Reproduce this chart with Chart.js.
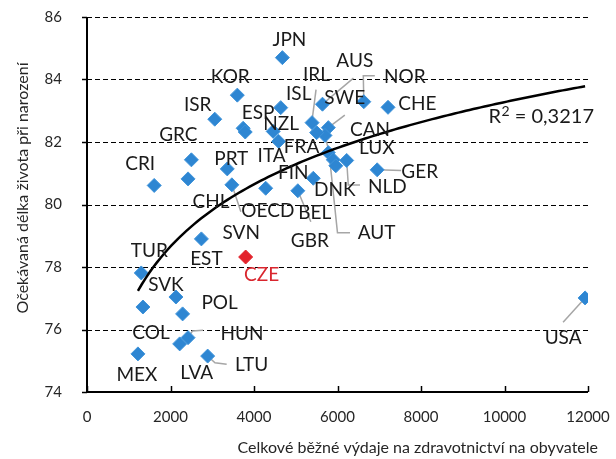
<!DOCTYPE html>
<html>
<head>
<meta charset="utf-8">
<script src="https://cdn.jsdelivr.net/npm/chart.js@4/dist/chart.umd.min.js"></script>
<style>
  html, body { margin: 0; padding: 0; background: #fff; }
  #wrap { width: 616px; height: 459px; }
</style>
</head>
<body>
<div id="wrap"><canvas id="chart" width="616" height="459"></canvas></div>
<script>
// Health spending per capita vs. life expectancy at birth
const countries = ['JPN','KOR','ISR','ISL','ESP','SVN','NZL','ITA','IRL','AUS','NOR','CHE','SWE','AUT','FRA','CAN','LUX','DNK','NLD','GER','FIN','GBR','BEL','OECD','PRT','GRC','CHL','CRI','EST','CZE','TUR','SVK','COL','POL','HUN','LVA','MEX','LTU','USA'];
const spending = [4680,3600,3060,4640,3740,3790,4460,4590,5390,5640,6630,7210,5780,5700,5500,5780,5900,5960,6220,6950,5420,5050,4280,3470,3360,2500,2420,1610,2740,3800,1300,2130,1340,2290,2420,2220,1220,2890,11930];
const lifeExpectancy = [84.70,83.50,82.73,83.10,82.44,82.32,82.34,82.02,82.62,83.21,83.29,83.11,82.46,82.21,82.30,81.66,81.43,81.24,81.41,81.11,80.84,80.44,80.52,80.63,81.14,81.43,80.82,80.61,78.90,78.32,77.81,77.04,76.72,76.50,75.74,75.54,75.22,75.15,77.01];
const highlighted = 'CZE';
const xTicks = [0, 2000, 4000, 6000, 8000, 10000, 12000];
const yTicks = [74, 76, 78, 80, 82, 84, 86];
const rSquaredText = 'R² = 0,3217';
const xTitle = 'Celkové běžné výdaje na zdravotnictví na obyvatele';
const yTitle = 'Očekávaná délka života při narození';

// Where each country label sits, in px from its marker
const labelOffsets = {
  JPN:[7,-18], KOR:[-7,-18], ISR:[-17,-14], ISL:[18,-14], ESP:[15,-15], SVN:[-4,101],
  NZL:[8,-7.5], ITA:[-7,14.5], IRL:[4.4,-47.5], AUS:[32.3,-43.3], NOR:[41,-24.8],
  CHE:[29.4,-3.3], SWE:[16.5,-30.2], AUT:[51.7,97.2], FRA:[-15,14], CAN:[41.7,-22.7],
  LUX:[43.4,-11.7], DNK:[-1,24], NLD:[40.6,26.2], GER:[42.5,1.7], FIN:[-20,-5],
  GBR:[12,50], BEL:[49,25], OECD:[36,26], PRT:[4,-10], GRC:[-13,-25], CHL:[23,23],
  CRI:[-14,-22], EST:[5,20], CZE:[16,18], TUR:[8,-22], SVK:[-10,-12], COL:[8,26],
  POL:[37,-11], HUN:[54,-4], LVA:[17,29], MEX:[-1,21], LTU:[44,9], USA:[-22,40]
};
// Leader lines from marker to a moved label
const leaderPaths = {
  IRL:[[0,-2],[4,-33]],
  AUS:[[0,0],[31,-26]],
  NOR:[[0,0],[-0.5,-26],[11,-26]],
  SWE:[[0,0],[16.5,-12.5]],
  AUT:[[0,0],[4,16.5],[12.5,97.2],[25,97.2]],
  NLD:[[0,0],[1.6,24.5],[13.3,24.5]],
  GER:[[0,0],[24,0.7]],
  GBR:[[0,0],[13,31]],
  OECD:[[0,0],[9,27]],
  HUN:[[0,0],[4.4,-6.6],[15,-7.3]],
  LTU:[[0,0],[7.3,6.7],[19,8.3]],
  USA:[[0,0],[-22,24.4]]
};

const FONT = 'Lato, "Liberation Sans", sans-serif';
const BLUE = '#2E86D2';
const RED = '#E3222B';
const TEXT = '#1A1A1A';

// Logarithmic trend (least squares on ln x)
function logTrend(xs, ys) {
  const n = xs.length;
  let sx = 0, sy = 0, sxx = 0, sxy = 0;
  for (let i = 0; i < n; i++) {
    const lx = Math.log(xs[i]);
    sx += lx; sy += ys[i]; sxx += lx * lx; sxy += lx * ys[i];
  }
  const a = (n * sxy - sx * sy) / (n * sxx - sx * sx);
  const b = (sy - a * sx) / n;
  return { a, b };
}
const trend = logTrend(spending, lifeExpectancy);
const xMin = Math.min(...spending), xMax = Math.max(...spending);
const trendPoints = [];
for (let k = 0; k <= 120; k++) {
  const x = xMin + (xMax - xMin) * k / 120;
  trendPoints.push({ x, y: trend.a * Math.log(x) + trend.b });
}

const basePoints = [], hiPoints = [];
countries.forEach((c, i) => {
  const p = { x: spending[i], y: lifeExpectancy[i] };
  (c === highlighted ? hiPoints : basePoints).push(p);
});

// Text with a raised, slightly smaller superscript two
function drawWithSuperscript(ctx, text, cx, cy, size) {
  const parts = text.split('²');
  const supSize = Math.round(size * 0.68);
  ctx.font = size + 'px ' + FONT;
  const w0 = ctx.measureText(parts[0]).width;
  const w2 = parts.length > 1 ? ctx.measureText(parts[1]).width : 0;
  ctx.font = supSize + 'px ' + FONT;
  const w1 = parts.length > 1 ? ctx.measureText('2').width : 0;
  let xPos = cx - (w0 + w1 + w2) / 2;
  ctx.textAlign = 'left';
  ctx.font = size + 'px ' + FONT;
  ctx.fillText(parts[0], xPos, cy);
  xPos += w0;
  if (parts.length > 1) {
    ctx.font = supSize + 'px ' + FONT;
    ctx.fillText('2', xPos + 0.5, cy - size * 0.3);
    xPos += w1 + 0.5;
    ctx.font = size + 'px ' + FONT;
    ctx.fillText(parts[1], xPos, cy);
  }
  ctx.textAlign = 'center';
}

const decorPlugin = {
  id: 'decor',
  beforeDatasetsDraw(chart) {
    const { ctx, scales: { x, y }, chartArea } = chart;
    ctx.save();
    // dashed horizontal grid
    ctx.strokeStyle = '#000';
    ctx.lineWidth = 1;
    ctx.setLineDash([5, 3]);
    yTicks.forEach(v => {
      if (v === y.min) return;
      const py = Math.round(y.getPixelForValue(v)) + 0.5;
      ctx.beginPath(); ctx.moveTo(chartArea.left, py); ctx.lineTo(chartArea.right, py); ctx.stroke();
    });
    ctx.setLineDash([]);
    // leader lines
    ctx.strokeStyle = '#A6A6A6';
    ctx.lineWidth = 1.5;
    countries.forEach((c, i) => {
      const path = leaderPaths[c];
      if (!path) return;
      const px = x.getPixelForValue(spending[i]);
      const py = y.getPixelForValue(lifeExpectancy[i]);
      ctx.beginPath();
      path.forEach(([dx, dy], k) => {
        if (k === 0) ctx.moveTo(px + dx, py + dy); else ctx.lineTo(px + dx, py + dy);
      });
      ctx.stroke();
    });
    ctx.restore();
  },
  afterDatasetsDraw(chart) {
    const { ctx, scales: { x, y }, chartArea } = chart;
    ctx.save();
    // axis lines
    ctx.strokeStyle = '#000';
    ctx.lineWidth = 2;
    ctx.beginPath();
    ctx.moveTo(chartArea.left, chartArea.top);
    ctx.lineTo(chartArea.left, chartArea.bottom);
    ctx.lineTo(chartArea.right, chartArea.bottom);
    ctx.stroke();
    // tick marks
    ctx.lineWidth = 1.5;
    yTicks.forEach(v => {
      const py = Math.round(y.getPixelForValue(v)) + 0.5;
      ctx.beginPath(); ctx.moveTo(chartArea.left - 5, py); ctx.lineTo(chartArea.left, py); ctx.stroke();
    });
    xTicks.forEach(v => {
      const px = Math.round(x.getPixelForValue(v)) + 0.5;
      ctx.beginPath(); ctx.moveTo(px, chartArea.bottom); ctx.lineTo(px, chartArea.bottom - 6); ctx.stroke();
    });
    // tick labels
    ctx.fillStyle = '#262626';
    ctx.font = '15px ' + FONT;
    ctx.textBaseline = 'middle';
    ctx.textAlign = 'right';
    yTicks.forEach(v => ctx.fillText(String(v), chartArea.left - 25, y.getPixelForValue(v)));
    ctx.textAlign = 'center';
    xTicks.forEach(v => ctx.fillText(String(v), x.getPixelForValue(v), chartArea.bottom + 25));
    // country labels
    ctx.font = '19px ' + FONT;
    countries.forEach((c, i) => {
      const off = labelOffsets[c] || [0, -16];
      const px = x.getPixelForValue(spending[i]);
      const py = y.getPixelForValue(lifeExpectancy[i]);
      ctx.fillStyle = c === highlighted ? '#D9262E' : TEXT;
      ctx.fillText(c, px + off[0], py + off[1]);
    });
    // R² of the trend
    ctx.fillStyle = TEXT;
    drawWithSuperscript(ctx, rSquaredText, 541, 117, 20);
    // axis titles
    ctx.font = '16px ' + FONT;
    ctx.fillStyle = '#262626';
    ctx.textAlign = 'right';
    ctx.fillText(xTitle, 598, 448);
    ctx.textAlign = 'center';
    ctx.translate(23, 188);
    ctx.rotate(-Math.PI / 2);
    ctx.fillText(yTitle, 0, 0);
    ctx.restore();
  }
};

new Chart(document.getElementById('chart'), {
  type: 'scatter',
  data: {
    datasets: [
      {
        type: 'line', data: trendPoints, order: 0,
        borderColor: '#000', borderWidth: 2.5, pointRadius: 0, fill: false, tension: 0
      },
      {
        data: hiPoints, order: 1, pointStyle: 'rectRot', pointRadius: 7,
        backgroundColor: RED, borderColor: RED, borderWidth: 1
      },
      {
        data: basePoints, order: 2, pointStyle: 'rectRot', pointRadius: 7,
        backgroundColor: BLUE, borderColor: '#3E93DA', borderWidth: 1
      }
    ]
  },
  options: {
    responsive: false,
    animation: false,
    devicePixelRatio: 1,
    layout: { padding: { top: 17, right: 28, bottom: 0, left: 0 } },
    plugins: { legend: { display: false }, tooltip: { enabled: false } },
    scales: {
      x: {
        type: 'linear', min: 0, max: 12000,
        afterBuildTicks: s => { s.ticks = xTicks.map(v => ({ value: v })); },
        afterFit: s => { s.height = 67; },
        grid: { display: false, drawTicks: false },
        border: { display: false },
        ticks: { display: false }
      },
      y: {
        type: 'linear', min: 74, max: 86,
        afterBuildTicks: s => { s.ticks = yTicks.map(v => ({ value: v })); },
        afterFit: s => { s.width = 87; },
        grid: { display: false, drawTicks: false },
        border: { display: false },
        ticks: { display: false }
      }
    }
  },
  plugins: [decorPlugin]
});
</script>
</body>
</html>
